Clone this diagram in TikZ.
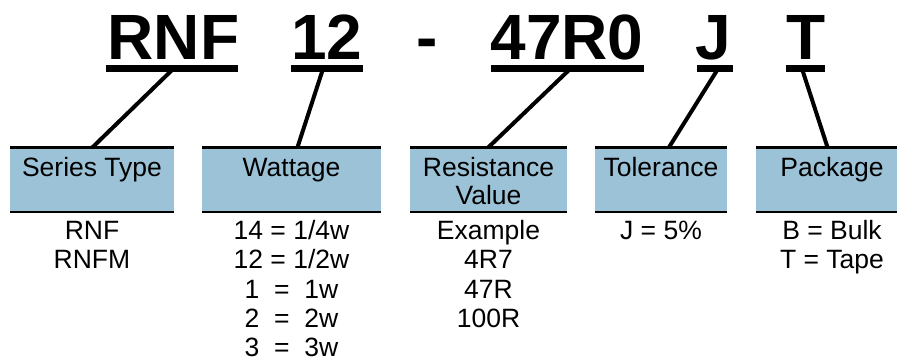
\documentclass[tikz,border=0pt]{standalone}
\usepackage{fontspec}
\setmainfont{Liberation Sans}
\usetikzlibrary{calc}
\definecolor{boxblue}{RGB}{155,194,214}
\begin{document}
\begin{tikzpicture}[x=1pt,y=-1pt,
  codepart/.style={font=\fontsize{64}{70}\selectfont\bfseries, anchor=base, inner sep=0pt},
  uline/.style={line width=7pt},
  conn/.style={line width=4pt},
  catbox/.style={fill=boxblue, inner sep=0pt, minimum height=65pt},
  head/.style={font=\fontsize{26.5}{28}\selectfont, anchor=north, align=center, inner sep=0pt},
  listtext/.style={font=\fontsize{26.5}{29.4}\selectfont, anchor=north, align=center, inner sep=0pt},
  topline/.style={line width=3pt},
  botline/.style={line width=2.5pt}]
\useasboundingbox (0,0) rectangle (897,360);
\begin{scope}
\clip (0,0) rectangle (897,360);
% code parts
\node[codepart] (t1) at (173.5,59) {RNF};
\node[codepart] (t2) at (327,59) {12};
\node[codepart] (t3) at (427,59) {-};
\node[codepart] (t4) at (567,59) {47R0};
\node[codepart] (t5) at (713,59) {J};
\node[codepart] (t6) at (806,59) {T};
% underlines
\coordinate (u1l) at (106,68.5); \coordinate (u1r) at (238,68.5);
\coordinate (u2l) at (291,68.5); \coordinate (u2r) at (363,68.5);
\coordinate (u4l) at (491,68.5); \coordinate (u4r) at (644,68.5);
\coordinate (u5l) at (697,68.5); \coordinate (u5r) at (733,68.5);
\coordinate (u6l) at (786,68.5); \coordinate (u6r) at (825,68.5);
\draw[uline] (u1l) -- (u1r);
\draw[uline] (u2l) -- (u2r);
\draw[uline] (u4l) -- (u4r);
\draw[uline] (u5l) -- (u5r);
\draw[uline] (u6l) -- (u6r);
% boxes
\node[catbox, minimum width=164pt] (b1) at (92,179.5) {};
\node[catbox, minimum width=179pt] (b2) at (291.5,179.5) {};
\node[catbox, minimum width=157pt] (b3) at (488.5,179.5) {};
\node[catbox, minimum width=132pt] (b4) at (661,179.5) {};
\node[catbox, minimum width=152pt] (b5) at (832,179.5) {};
\foreach \b in {b1,b2,b3,b4,b5}{
  \draw[topline] ([yshift=-0.5pt]\b.north west) -- ([yshift=-0.5pt]\b.north east);
  \draw[botline] (\b.south west) -- (\b.south east);
}
% headers
\node[head] (h1) at (92,154) {\rule{0pt}{22pt}Series Type};
\node[head] (h2) at (291.5,154) {\rule{0pt}{22pt}Wattage};
\node[head] (h3) at (488.5,154) {\rule{0pt}{22pt}Resistance\\Value};
\node[head] (h4) at (661,154) {\rule{0pt}{22pt}Tolerance};
\node[head] (h5) at (832,154) {\rule{0pt}{22pt}Package};
% connectors
\coordinate (k1) at (173.6,68.5);
\coordinate (k2) at (323.1,68.5);
\coordinate (k4) at (570.6,68.5);
\coordinate (k5) at (718.2,68.5);
\coordinate (k6) at (801.9,68.5);
\draw[conn] (k1) -- ([xshift=0.5pt,yshift=-0.5pt]b1.north);
\draw[conn] (k2) -- ([xshift=6pt,yshift=-0.5pt]b2.north);
\draw[conn] (k4) -- ([xshift=-0.1pt,yshift=-0.5pt]b3.north);
\draw[conn] (k5) -- ([xshift=8pt,yshift=-0.5pt]b4.north);
\draw[conn] (k6) -- ([xshift=-4.5pt,yshift=-0.5pt]b5.north);
% lists
\node[listtext] (l1) at (92,217) {\rule{0pt}{22pt}RNF\\RNFM};
\node[listtext] (l2) at (291.5,217) {\rule{0pt}{22pt}14 = 1/4w\\12 = 1/2w\\1\ \ =\ \ 1w\\2\ \ =\ \ 2w\\3\ \ =\ \ 3w};
\node[listtext] (l3) at (488.5,217) {\rule{0pt}{22pt}Example\\4R7\\47R\\100R};
\node[listtext] (l4) at (661,217) {\rule{0pt}{22pt}J = 5\%};
\node[listtext] (l5) at (832,217) {\rule{0pt}{22pt}B = Bulk\\T = Tape};
\end{scope}
\end{tikzpicture}
\end{document}
